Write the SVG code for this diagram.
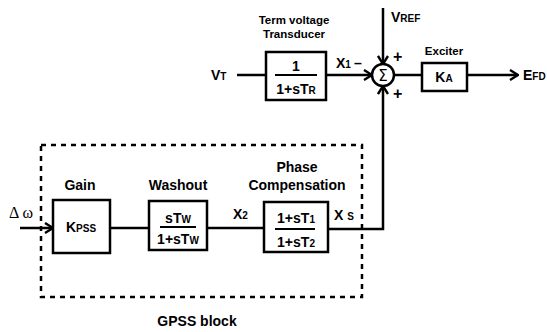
<svg xmlns="http://www.w3.org/2000/svg" width="547" height="332" viewBox="0 0 547 332">
<style>
.box{fill:#fff;stroke:#000;stroke-width:2.5}
.ln{fill:none;stroke:#000;stroke-width:2.5}
.fr{fill:none;stroke:#000;stroke-width:2}
.t{font-family:"Liberation Sans",Arial,sans-serif;font-weight:bold;font-size:14px;fill:#000}
.s{font-size:11.5px}
.sm{font-size:10px}
.m{text-anchor:middle}
.p{font-size:16px}
</style>
<defs>
<marker id="ar" viewBox="0 0 12 12" refX="11" refY="6" markerWidth="12" markerHeight="12" markerUnits="userSpaceOnUse" orient="auto">
<path d="M3,1 L11,6 L3,11" fill="none" stroke="#000" stroke-width="2.4"/>
</marker>
</defs>
<rect x="41" y="145" width="321" height="152" fill="none" stroke="#000" stroke-width="2.5" stroke-dasharray="5,5"/>
<g id="connectors">
<path class="ln" d="M237,75 H266"/>
<path class="ln" d="M326,75 H372" marker-end="url(#ar)"/>
<path class="ln" d="M383,8 V64" marker-end="url(#ar)"/>
<path class="ln" d="M394,75 H422"/>
<path class="ln" d="M467,75 H518" marker-end="url(#ar)"/>
<path class="ln" d="M328,229 H383 V86" marker-end="url(#ar)"/>
<path class="ln" d="M20,228 H53" marker-end="url(#ar)"/>
<path class="ln" d="M110,228 H149"/>
<path class="ln" d="M207,228 H264"/>
</g>
<g id="transducer">
<text class="t s m" x="294" y="24">Term voltage</text>
<text class="t s m" x="294" y="38">Transducer</text>
<rect class="box" x="266" y="52" width="60" height="48"/>
<text class="t m" x="296" y="71">1</text>
<path class="fr" d="M275,75 H317"/>
<text class="t m" x="296" y="94">1+sT<tspan class="sm">R</tspan></text>
</g>
<g id="vt"><text class="t" x="211" y="80">V<tspan class="sm">T</tspan></text></g>
<g id="x1"><text class="t" x="336" y="68">X<tspan class="sm">1</tspan></text><text class="t" x="354" y="68">–</text></g>
<g id="vref"><text class="t" x="391" y="22">V<tspan class="sm">REF</tspan></text></g>
<g id="sum">
<circle cx="383" cy="75" r="11" fill="#fff" stroke="#000" stroke-width="2.5"/>
<text x="383" y="81" text-anchor="middle" font-family="'DejaVu Sans',sans-serif" font-size="15" fill="#000">Σ</text>
<text class="t p" x="393" y="62">+</text>
<text class="t p" x="393" y="99">+</text>
</g>
<g id="exciter">
<text class="t s m" x="444" y="55">Exciter</text>
<rect class="box" x="422" y="63" width="45" height="28"/>
<text class="t m" x="444" y="82">K<tspan class="sm">A</tspan></text>
</g>
<g id="efd"><text class="t" x="523" y="80">E<tspan class="sm">FD</tspan></text></g>
<g id="dw"><text x="9" y="218" font-family="'Liberation Serif',serif" font-size="16" fill="#000">Δ ω</text></g>
<g id="gain">
<text class="t m" x="80" y="190">Gain</text>
<rect class="box" x="53" y="200" width="57" height="53"/>
<text class="t m" x="81" y="232">K<tspan class="sm">PSS</tspan></text>
</g>
<g id="washout">
<text class="t m" x="178" y="190">Washout</text>
<rect class="box" x="149" y="201" width="58" height="49"/>
<text class="t m" x="178" y="223">sT<tspan class="sm">W</tspan></text>
<path class="fr" d="M160,227 H196"/>
<text class="t m" x="178" y="244">1+sT<tspan class="sm">W</tspan></text>
</g>
<g id="x2"><text class="t" x="233" y="219">X<tspan class="sm">2</tspan></text></g>
<g id="phase">
<text class="t m" x="297" y="172">Phase</text>
<text class="t m" x="297" y="190">Compensation</text>
<rect class="box" x="264" y="202" width="64" height="50"/>
<text class="t m" x="296" y="223">1+sT<tspan class="sm">1</tspan></text>
<path class="fr" d="M275,229 H315"/>
<text class="t m" x="296" y="247">1+sT<tspan class="sm">2</tspan></text>
</g>
<g id="xs"><text class="t" x="334" y="220">X <tspan class="sm">S</tspan></text></g>
<g id="gpss"><text class="t m" x="197" y="326">GPSS block</text></g>
</svg>
